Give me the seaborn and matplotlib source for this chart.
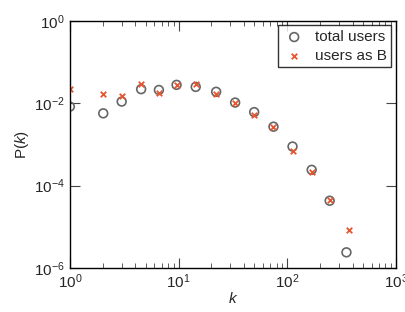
import numpy as np
import pandas as pd
import matplotlib
matplotlib.use("Agg")
import matplotlib.pyplot as plt
import seaborn as sns

# degree k and P(k)
k_total = [1.0, 2.03, 3.0, 4.53, 6.6, 9.6, 14.4, 22.2, 33.2, 49.7, 74.8, 112, 168, 246, 351]
p_total = [0.0083, 0.0057, 0.011, 0.022, 0.021, 0.028, 0.025, 0.019, 0.0104, 0.0061,
           0.0027, 0.00089, 0.000242, 4.3e-5, 2.4e-6]
k_b = [1.0, 2.03, 3.0, 4.53, 6.6, 9.6, 14.4, 22.2, 33.2, 49.7, 74.8, 112, 168, 246, 369]
p_b = [0.022, 0.017, 0.0154, 0.0296, 0.0176, 0.0275, 0.029, 0.017, 0.010, 0.0052,
       0.0027, 0.00071, 0.00022, 4.5e-5, 8.5e-6]

sns.set_style("ticks")
plt.rcParams.update({
    "font.family": ["Liberation Sans", "DejaVu Sans"],
    "font.size": 11,
    "mathtext.fontset": "custom",
    "mathtext.rm": "Liberation Sans",
    "mathtext.it": "Liberation Sans:italic",
    "xtick.direction": "in",
    "ytick.direction": "in",
    "xtick.top": True,
    "ytick.right": True,
    "xtick.major.size": 7,
    "ytick.major.size": 7,
    "xtick.minor.size": 3.5,
    "ytick.minor.size": 3.5,
    "axes.edgecolor": "black",
    "axes.linewidth": 1.0,
})

fig = plt.figure(figsize=(4.06, 3.12), dpi=100)
ax = fig.add_axes([0.172, 0.141, 0.803, 0.792])

sns.scatterplot(x=k_total, y=p_total, ax=ax, marker="o", s=40, facecolor="none",
                edgecolor="#666666", linewidth=1.2, label="total users")
sns.scatterplot(x=k_b, y=p_b, ax=ax, marker="x", s=16, color="#e8552f",
                linewidth=1.3, label="users as B")

ax.set_xscale("log")
ax.set_yscale("log")
ax.set_xlim(1, 1000)
ax.set_ylim(1e-6, 1)
ax.set_yticks([1e-6, 1e-4, 1e-2, 1])
ax.yaxis.set_minor_locator(matplotlib.ticker.NullLocator())
ax.set_xlabel("$k$", labelpad=0)
ax.set_ylabel("P($k$)", labelpad=2)
ax.tick_params(which="both", color="#444444")

leg = ax.legend(loc="upper right", frameon=True, fancybox=False, borderaxespad=0.3,
                handletextpad=0.6, borderpad=0.3, labelspacing=0.3, handlelength=1.5,
                fontsize=11)
leg.get_frame().set_edgecolor("black")
leg.get_frame().set_linewidth(1.0)

fig.savefig("out.png", dpi=100)
